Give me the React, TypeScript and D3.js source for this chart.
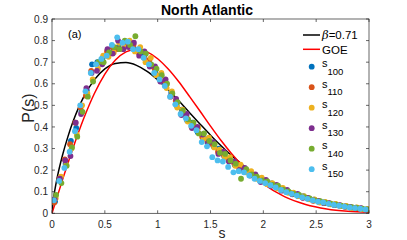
import * as d3 from 'd3';

// spacing distribution, North Atlantic panel (a)
const SERIES = ['100', '110', '120', '130', '140', '150'];
const COLORS = ['#0072BD', '#D95319', '#EDB120', '#7E2F8E', '#77AC30', '#4DBEEE'];
const X_SHIFT = [0.004, -0.004, 0.01, 0.0, 0.014, -0.008];

// bin centres of the histograms
const BINS = d3.range(60).map((i) => 0.025 + i * 0.05);

const S100 = [.055,.165,.230,.335,.395,.470,.570,.690,.700,.720,.735,.750,.770,.790,.775,.760,.740,.735,.690,.650,.640,.590,.560,.500,.480,.430,.420,.375,.350,.345,.310,.300,.265,.255,.225,.220,.195,.190,.165,.160,.140,.138,.120,.115,.098,.095,.080,.080,.066,.063,.052,.052,.043,.042,.034,.033,.026,.026,.020,.018];
const S110 = [.050,.160,.250,.320,.420,.490,.545,.660,.690,.700,.750,.770,.760,.790,.790,.780,.745,.720,.710,.670,.620,.610,.540,.520,.460,.450,.400,.390,.355,.330,.320,.285,.275,.245,.235,.210,.205,.180,.175,.150,.150,.130,.128,.108,.104,.090,.086,.073,.070,.058,.056,.048,.046,.038,.037,.030,.029,.023,.023,.016];
const S120 = [.070,.170,.225,.300,.365,.500,.555,.620,.670,.730,.725,.745,.790,.770,.800,.750,.770,.700,.720,.640,.650,.580,.565,.490,.480,.425,.415,.395,.345,.350,.305,.295,.260,.260,.220,.225,.190,.195,.160,.165,.135,.140,.115,.118,.095,.096,.080,.079,.065,.064,.050,.053,.042,.043,.033,.034,.025,.027,.019,.020];
const S130 = [.065,.160,.245,.265,.420,.460,.580,.650,.660,.690,.760,.740,.800,.760,.770,.790,.730,.750,.680,.680,.610,.620,.545,.530,.455,.460,.395,.400,.365,.325,.330,.275,.285,.240,.240,.200,.210,.175,.180,.145,.155,.128,.132,.105,.108,.088,.090,.072,.071,.060,.058,.047,.047,.038,.038,.031,.030,.024,.024,.017];
const S140 = [.085,.140,.220,.305,.355,.470,.540,.610,.700,.700,.745,.770,.760,.800,.780,.820,.750,.740,.690,.670,.640,.600,.555,.515,.475,.435,.420,.370,.370,.335,.320,.280,.275,.245,.230,.160,.205,.180,.170,.152,.148,.132,.128,.110,.102,.090,.085,.075,.069,.060,.056,.049,.045,.040,.036,.031,.028,.025,.022,.018];
const S150 = [.060,.150,.210,.285,.380,.500,.565,.650,.690,.715,.730,.780,.815,.790,.795,.760,.760,.720,.690,.650,.620,.590,.540,.505,.460,.440,.405,.385,.330,.310,.260,.245,.240,.215,.190,.195,.190,.175,.160,.150,.140,.130,.120,.108,.098,.090,.082,.074,.067,.060,.054,.050,.044,.039,.035,.031,.027,.024,.021,.018];
const VALUES = [S100, S110, S120, S130, S140, S150];

// Brody curve, beta = 0.71
const BRODY_S = [0, .01, .02, .05, .1, .15, .2, .25, .3, .4, .5, .6, .7, .8, .9, 1.0, 1.1, 1.2, 1.3, 1.4, 1.5, 1.6, 1.7, 1.8, 1.9, 2.0, 2.2, 2.4, 2.6, 2.8, 3.0];
const BRODY_P = [0, .054, .087, .167, .270, .354, .426, .487, .539, .618, .669, .694, .698, .685, .657, .618, .572, .521, .467, .414, .362, .313, .267, .226, .189, .156, .104, .066, .041, .025, .014];

// Wigner surmise (GOE)
const GOE_S = [0, .1, .2, .3, .4, .5, .6, .7, .8, .9, 1.0, 1.1, 1.2, 1.3, 1.4, 1.5, 1.6, 1.7, 1.8, 1.9, 2.0, 2.2, 2.4, 2.6, 2.8, 3.0];
const GOE_P = [0, .156, .304, .439, .554, .645, .710, .748, .760, .748, .716, .668, .609, .542, .474, .404, .337, .276, .222, .175, .136, .077, .041, .020, .009, .004];

const X_TICKS = [0, 0.5, 1, 1.5, 2, 2.5, 3];
const Y_TICKS = [0, 0.1, 0.2, 0.3, 0.4, 0.5, 0.6, 0.7, 0.8, 0.9];

const W = 407;
const H = 240;
const LEFT = 52;
const RIGHT = 369;
const TOP = 19;
const BOTTOM = 213.3;
const FONT = '"Liberation Sans", Arial, Helvetica, sans-serif';
const AXIS = '#262626';
const DOT_R = 2.9;

export default function App() {
  const x = d3.scaleLinear().domain([0, 3]).range([LEFT, RIGHT]);
  const y = d3.scaleLinear().domain([0, 0.9]).range([BOTTOM, TOP]);

  const line = d3
    .line<[number, number]>()
    .x((d) => x(d[0]))
    .y((d) => y(d[1]))
    .curve(d3.curveMonotoneX);

  const brodyPath = line(BRODY_S.map((s, i) => [s, BRODY_P[i]])) ?? '';
  const goePath = line(GOE_S.map((s, i) => [s, GOE_P[i]])) ?? '';

  const tick = 3;

  return (
    <svg
      width={W}
      height={H}
      style={{ position: 'absolute', left: 0, top: 0, background: '#fff' }}
      fontFamily={FONT}
    >
      <rect width={W} height={H} fill="#fff" />

      <defs>
        <clipPath id="plot-clip">
          <rect x={LEFT} y={TOP} width={RIGHT - LEFT} height={BOTTOM - TOP} />
        </clipPath>
      </defs>

      <g clipPath="url(#plot-clip)">
        <path d={brodyPath} fill="none" stroke="#000" strokeWidth={1.5} />
        <path d={goePath} fill="none" stroke="#ff0000" strokeWidth={1.5} />
        {VALUES.map((vals, k) => (
          <g key={SERIES[k]}>
            {vals.map((v, i) => (
              <circle
                key={i}
                cx={x(BINS[i] + X_SHIFT[k])}
                cy={y(v)}
                r={DOT_R}
                fill={COLORS[k]}
              />
            ))}
          </g>
        ))}
      </g>

      {/* box */}
      <rect
        x={LEFT}
        y={TOP}
        width={RIGHT - LEFT}
        height={BOTTOM - TOP}
        fill="none"
        stroke={AXIS}
        strokeWidth={0.7}
      />

      {X_TICKS.map((t) => (
        <g key={`x${t}`}>
          <line x1={x(t)} x2={x(t)} y1={BOTTOM} y2={BOTTOM - tick} stroke={AXIS} strokeWidth={0.7} />
          <line x1={x(t)} x2={x(t)} y1={TOP} y2={TOP + tick} stroke={AXIS} strokeWidth={0.7} />
          <text x={x(t)} y={228} textAnchor="middle" fontSize={10} fill={AXIS}>
            {t}
          </text>
        </g>
      ))}

      {Y_TICKS.map((t) => (
        <g key={`y${t}`}>
          <line x1={LEFT} x2={LEFT + tick} y1={y(t)} y2={y(t)} stroke={AXIS} strokeWidth={0.7} />
          <line x1={RIGHT} x2={RIGHT - tick} y1={y(t)} y2={y(t)} stroke={AXIS} strokeWidth={0.7} />
          <text x={48} y={y(t) + 3.6} textAnchor="end" fontSize={10} fill={AXIS}>
            {t}
          </text>
        </g>
      ))}

      <text x={207} y={15} textAnchor="middle" fontSize={14} fontWeight="bold" fill="#000">
        North Atlantic
      </text>
      <text x={68} y={38} fontSize={11} fill="#000">
        (a)
      </text>
      <text x={222} y={238} textAnchor="middle" fontSize={14} fill={AXIS}>
        s
      </text>
      <text
        transform="translate(34,108) rotate(-90)"
        textAnchor="middle"
        fontSize={16}
        fill={AXIS}
      >
        P(s)
      </text>

      {/* legend */}
      <g>
        <line x1={303} x2={320} y1={35} y2={35} stroke="#000" strokeWidth={1.5} />
        <text x={322} y={39} fontSize={11.5} fill="#000">
          <tspan fontStyle="italic" fontFamily='"DejaVu Serif", serif'>β</tspan>=0.71
        </text>
        <line x1={303} x2={320} y1={49.3} y2={49.3} stroke="#ff0000" strokeWidth={1.5} />
        <text x={322} y={53.5} fontSize={11.5} fill="#000">
          GOE
        </text>
        {SERIES.map((name, k) => {
          const cy = 66.7 + k * 20.5;
          return (
            <g key={name}>
              <circle cx={311.7} cy={cy} r={DOT_R} fill={COLORS[k]} />
              <text x={322} y={cy + 0.5} fontSize={11} fill="#000">
                s
                <tspan fontSize={9.5} dy={7.5}>
                  {name}
                </tspan>
              </text>
            </g>
          );
        })}
      </g>
    </svg>
  );
}
